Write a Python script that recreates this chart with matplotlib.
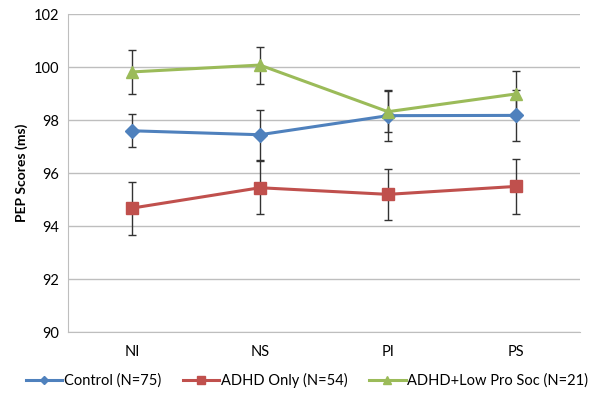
import matplotlib
matplotlib.use("Agg")
import matplotlib.pyplot as plt
from matplotlib.lines import Line2D
import numpy as np

plt.rcParams['font.family'] = ['Lato', 'DejaVu Sans']

conditions = ['NI', 'NS', 'PI', 'PS']
control = [97.6, 97.45, 98.17, 98.18]
control_err = [0.63, 0.95, 0.95, 0.95]
adhd = [94.68, 95.45, 95.2, 95.5]
adhd_err = [1.0, 1.0, 0.96, 1.03]
adhd_low = [99.82, 100.08, 98.32, 98.99]
adhd_low_err = [0.82, 0.7, 0.77, 0.85]

series = [
    ('Control (N=75)', control, control_err, '#4F81BD', 'D', 7),
    ('ADHD Only (N=54)', adhd, adhd_err, '#C0504D', 's', 9),
    ('ADHD+Low Pro Soc (N=21)', adhd_low, adhd_low_err, '#9BBB59', '^', 9),
]

fig = plt.figure(figsize=(5.9, 3.94), dpi=100)
ax = fig.add_axes([0.115, 0.157, 0.868, 0.807])

x = np.arange(len(conditions))
handles = []
for label, vals, err, color, marker, ms in series:
    ax.errorbar(x, vals, yerr=err, color=color, marker=marker, markersize=ms,
                linewidth=2.2, ecolor='#333333', elinewidth=1, capsize=3,
                capthick=1)
    handles.append(Line2D([], [], color=color, marker=marker, markersize=ms * 0.6,
                          linewidth=2.2, label=label))

ax.set_xlim(-0.5, 3.5)
ax.set_ylim(90, 102)
ax.set_yticks(range(90, 103, 2))
ax.set_xticks(x)
ax.set_xticklabels(conditions)
ax.yaxis.grid(True, color='#BEBEBE', linewidth=1)
ax.set_axisbelow(True)
for side in ['top', 'right']:
    ax.spines[side].set_visible(False)
ax.spines['left'].set_color('#BEBEBE')
ax.spines['bottom'].set_color('#BEBEBE')
ax.tick_params(axis='both', length=0, labelsize=10.5)
ax.tick_params(axis='x', pad=9)
ax.tick_params(axis='y', pad=6)
ax.set_ylabel('PEP Scores (ms)', fontsize=10, fontweight='bold')

fig.legend(handles=handles, loc='lower center', bbox_to_anchor=(0.52, -0.018), ncol=3,
           frameon=False, fontsize=10.5, handlelength=2.5, columnspacing=1.5,
           handletextpad=0.1)

fig.savefig('out.png', dpi=100)
